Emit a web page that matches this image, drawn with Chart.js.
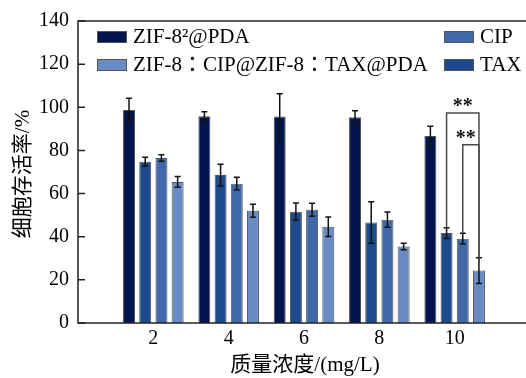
<!DOCTYPE html>
<html>
<head>
<meta charset="utf-8">
<script src="https://cdn.jsdelivr.net/npm/chart.js@4.4.1/dist/chart.umd.min.js"></script>
<style>
  html, body { margin: 0; padding: 0; background: #fff; overflow: hidden; width: 526px; height: 378px; }
  #wrap { width: 534px; height: 378px; }
  #probe { position: absolute; left: -9999px; top: 0; font-family: "Liberation Serif"; font-size: 20px; }
</style>
</head>
<body>
<div id="probe">0123456789 ZIF PDA</div>
<div id="wrap"><canvas id="c" width="534" height="378"></canvas></div>
<script>
// Mass concentration groups (mg/L)
const concentrations = ['2', '4', '6', '8', '10'];

// Series names
const seriesNames = ['ZIF-8²@PDA', 'TAX', 'CIP', 'ZIF-8：CIP@ZIF-8：TAX@PDA'];

// Cell viability (%) and standard deviations
const zifPda    = [98.7, 95.9, 95.7, 95.4, 86.7];
const zifPdaErr = [5.5, 2.0, 10.6, 3.0, 4.5];
const tax       = [74.8, 68.6, 51.6, 46.6, 41.7];
const taxErr    = [2.0, 5.0, 4.0, 9.6, 2.5];
const cip       = [76.5, 64.6, 52.5, 47.9, 39.1];
const cipErr    = [1.5, 3.0, 3.0, 3.5, 2.5];
const combo     = [65.4, 52.0, 44.6, 35.5, 24.3];
const comboErr  = [2.5, 3.0, 4.5, 1.5, 6.0];

// Y axis ticks
const yTicks = [0, 20, 40, 60, 80, 100, 120, 140];

const colors = ['#03154c', '#1c4a8c', '#4169a9', '#6a8cc4'];
const values = [zifPda, tax, cip, combo];
const errors = [zifPdaErr, taxErr, cipErr, comboErr];

// empty slots at both ends give the 0..12 span of the concentration axis
const xLabels = [''].concat(concentrations, ['']);
const pad = arr => [null].concat(arr, [null]);

const SERIF = '"Liberation Serif", "DejaVu Serif", serif';
const MIXED = '"Liberation Serif", "Noto Sans CJK SC", serif';
const LEGEND = '"Liberation Serif", "Noto Sans CJK TC", serif';

const datasets = values.map((v, i) => ({
  label: seriesNames[i],
  data: pad(v),
  errors: pad(errors[i]),
  backgroundColor: colors[i],
  borderColor: '#555',
  borderWidth: 1,
  categoryPercentage: 0.86,
  barPercentage: 0.74
}));

const decorations = {
  id: 'decorations',
  afterDatasetsDraw(chart) {
    const ctx = chart.ctx;
    const ya = chart.scales.y;

    // error bars
    ctx.save();
    ctx.strokeStyle = '#111';
    ctx.lineWidth = 1.5;
    chart.data.datasets.forEach((ds, di) => {
      const meta = chart.getDatasetMeta(di);
      ds.data.forEach((v, idx) => {
        if (v == null) return;
        const e = ds.errors[idx];
        const x = meta.data[idx].x;
        const yt = ya.getPixelForValue(v + e);
        const yb = ya.getPixelForValue(v - e);
        ctx.beginPath();
        ctx.moveTo(x, yt); ctx.lineTo(x, yb);
        ctx.moveTo(x - 3, yt); ctx.lineTo(x + 3, yt);
        ctx.moveTo(x - 3, yb); ctx.lineTo(x + 3, yb);
        ctx.stroke();
      });
    });
    ctx.restore();

    // significance brackets at the highest concentration
    const last = concentrations.length;   // index in padded data
    const topOf = di => ya.getPixelForValue(values[di][last - 1] + errors[di][last - 1]);
    const xOf = di => chart.getDatasetMeta(di).data[last].x;
    const brackets = [
      { from: 1, to: 3, level: 97.4, starDx: 0 },
      { from: 2, to: 3, level: 82.6, starDx: -5 }
    ];
    ctx.save();
    ctx.strokeStyle = '#4a4a4a';
    ctx.lineWidth = 1.5;
    ctx.fillStyle = '#111';
    ctx.font = 'bold 20px ' + SERIF;
    ctx.textAlign = 'center';
    ctx.textBaseline = 'middle';
    brackets.forEach(b => {
      const yl = ya.getPixelForValue(b.level);
      const x1 = xOf(b.from), x2 = xOf(b.to);
      ctx.beginPath();
      ctx.moveTo(x1, topOf(b.from));
      ctx.lineTo(x1, yl);
      ctx.lineTo(x2, yl);
      ctx.lineTo(x2, topOf(b.to));
      ctx.stroke();
      ctx.fillText('**', (x1 + x2) / 2 + b.starDx, yl - 6);
    });
    ctx.restore();
  },
  afterDraw(chart) {
    const ctx = chart.ctx;
    const ya = chart.scales.y;
    const a = chart.chartArea;

    // frame
    ctx.save();
    ctx.strokeStyle = '#222';
    ctx.lineWidth = 1.5;
    ctx.strokeRect(a.left, a.top, a.right - a.left, a.bottom - a.top);
    // inward tick marks
    ctx.beginPath();
    yTicks.forEach(t => {
      const y = ya.getPixelForValue(t);
      ctx.moveTo(a.left, y); ctx.lineTo(a.left + 7, y);
    });
    ctx.stroke();
    ctx.restore();

    // legend
    ctx.save();
    ctx.font = '21px ' + LEGEND;
    ctx.textBaseline = 'middle';
    ctx.textAlign = 'left';
    const entries = [
      { di: 0, x: 97, y: 37 },
      { di: 3, x: 97, y: 65 },
      { di: 2, x: 444, y: 37 },
      { di: 1, x: 444, y: 65 }
    ];
    entries.forEach(en => {
      const ds = chart.data.datasets[en.di];
      ctx.fillStyle = ds.backgroundColor;
      ctx.fillRect(en.x, en.y - 6, 30, 12);
      ctx.strokeStyle = '#555';
      ctx.lineWidth = 1;
      ctx.strokeRect(en.x + 0.5, en.y - 5.5, 29, 11);
      ctx.fillStyle = '#000';
      ctx.fillText(ds.label, en.x + 36, en.y);
    });
    ctx.restore();

    // axis titles
    ctx.save();
    ctx.fillStyle = '#000';
    ctx.font = '21px ' + MIXED;
    ctx.textAlign = 'center';
    ctx.textBaseline = 'middle';
    ctx.fillText('质量浓度/(mg/L)', 305, 365);
    ctx.translate(23, 174);
    ctx.rotate(-Math.PI / 2);
    ctx.fillText('细胞存活率/%', 0, 0);
    ctx.restore();
  }
};

function draw() {
  new Chart(document.getElementById('c'), {
    type: 'bar',
    data: { labels: xLabels, datasets },
    options: {
      responsive: false,
      animation: false,
      devicePixelRatio: 1,
      layout: { padding: { left: 0, top: 20, right: 0, bottom: 0 } },
      plugins: { legend: { display: false }, tooltip: { enabled: false } },
      scales: {
        x: {
          type: 'category',
          offset: false,
          grid: { display: false, drawTicks: false },
          border: { display: false },
          ticks: { color: '#000', font: { family: SERIF, size: 20 }, padding: 4, autoSkip: false, maxRotation: 0 },
          afterFit: s => { s.height = 55; }
        },
        y: {
          min: 0, max: 140,
          grid: { display: false, drawTicks: false },
          border: { display: false },
          afterBuildTicks: s => { s.ticks = yTicks.map(v => ({ value: v })); },
          ticks: { color: '#000', font: { family: SERIF, size: 20 }, padding: 9 },
          afterFit: s => { s.width = 78; }
        }
      }
    },
    plugins: [decorations]
  });
}

const fontLoads = [
  '20px "Liberation Serif"', 'bold 20px "Liberation Serif"',
  '21px "Noto Sans CJK SC"', '21px "Noto Sans CJK TC"'
].map(f => document.fonts.load(f, '0123 ZIF细胞：'));
Promise.all(fontLoads).then(draw, draw);
</script>
</body>
</html>
